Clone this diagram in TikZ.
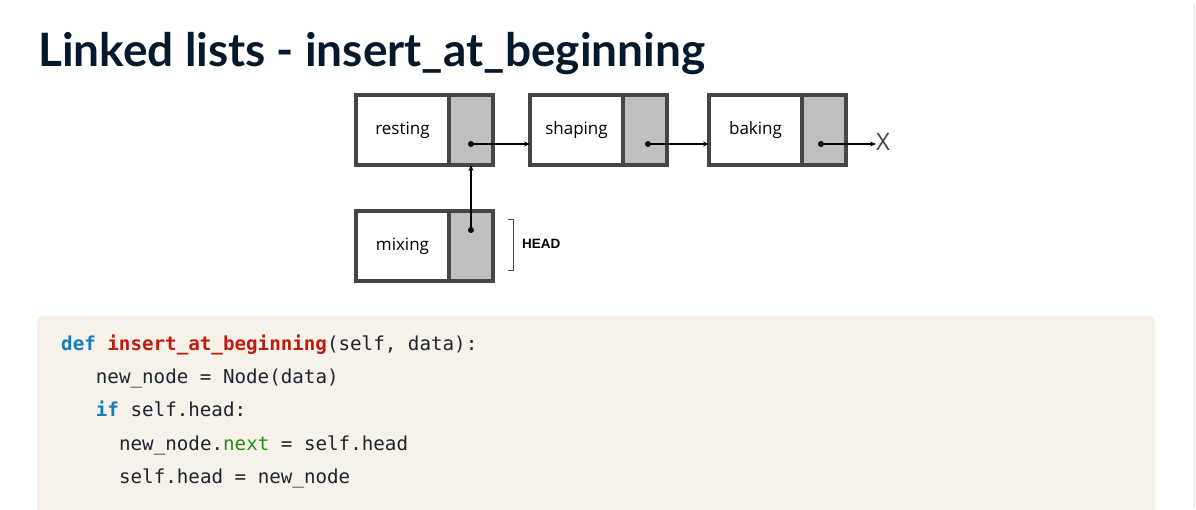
\documentclass[tikz,border=0pt]{standalone}
\usepackage{fontspec}
\usetikzlibrary{positioning,arrows.meta}
\setmainfont{Open Sans}
\newfontfamily\titlefont{Lato}
\newfontfamily\codefont{DejaVu Sans Mono}
\newfontfamily\headfont{Liberation Sans}
\definecolor{titleblue}{RGB}{5,25,45}
\definecolor{boxgray}{RGB}{69,69,69}
\definecolor{ptrgray}{RGB}{191,191,191}
\definecolor{codebg}{RGB}{246,242,234}
\definecolor{codetext}{RGB}{30,35,45}
\definecolor{kwblue}{RGB}{22,125,190}
\definecolor{fnred}{RGB}{190,28,15}
\definecolor{attrgreen}{RGB}{40,140,20}
\definecolor{edgegray}{RGB}{236,236,244}

\begin{document}
\begin{tikzpicture}[x = 1pt, y = 1pt,
    data/.style = {draw = boxgray, fill = white, line width = 4pt, minimum width = 93pt,
      minimum height = 70pt, inner sep = 0pt, outer sep = 0pt, font = \fontsize{17}{20}\selectfont},
    ptr/.style = {draw = boxgray, fill = ptrgray, line width = 4pt, minimum width = 44pt,
      minimum height = 70pt, inner sep = 0pt, outer sep = 0pt},
    code/.style = {anchor = base west, inner sep = 0pt, text = codetext,
      font = \codefont\fontsize{19.2}{22}\selectfont},
    >={Stealth[length = 6pt, width = 5pt]}]
      \path [use as bounding box, fill = white] (0,0) rectangle (1196,-509);
      \clip (0,0) rectangle (1196,-509);
      \draw [line width = 1.5pt, edgegray] (1194,-4) -- (1194,-509);

      % title
      \node (title) [anchor = base west, inner sep = 0pt, text = titleblue,
        font = \titlefont\bfseries\fontsize{46}{50}\selectfont] at (38,-66)
        {Linked lists - insert\_at\_beginning};

      % place nodes
      \node (rest) [data] at (402.5,-130) {resting};
      \node (prest) [ptr, right = 0pt of rest] {};
      \node (shape) [data, right = 37pt of prest] {shaping};
      \node (pshape) [ptr, right = 0pt of shape] {};
      \node (bake) [data, right = 42pt of pshape] {baking};
      \node (pbake) [ptr, right = 0pt of bake] {};
      \node (mix) [data, below = 46pt of rest] {mixing};
      \node (pmix) [ptr, right = 0pt of mix] {};

      \coordinate (drest) at ([yshift = -14pt]prest.center);
      \coordinate (dshape) at ([xshift = 3pt, yshift = -14pt]pshape.center);
      \coordinate (dbake) at ([xshift = -3pt, yshift = -14pt]pbake.center);
      \coordinate (dmix) at ([yshift = 16pt]pmix.center);

      \node (nil) [right = 55pt of dbake, inner sep = 0pt, yshift = 2pt, text = boxgray,
        font = \fontsize{24}{28}\selectfont] {X};
      \node (head) [anchor = west, inner sep = 0pt, font = \headfont\bfseries\fontsize{13.5}{16}\selectfont]
        at ([xshift = 29pt, yshift = 2pt]pmix.east) {HEAD};

      % draw edges
      \fill (drest) circle (3pt);
      \fill (dshape) circle (3pt);
      \fill (dbake) circle (3pt);
      \fill (dmix) circle (3pt);

      \draw [->, line width = 1.3pt] (drest) -- (drest -| shape.west);
      \draw [->, line width = 1.3pt] (dshape) -- (dshape -| bake.west);
      \draw [->, line width = 1.3pt] (dbake) -- (dbake -| nil.west);
      \draw [->, line width = 1.3pt] (dmix) -- (dmix |- prest.south);

      \draw [line width = 1pt, boxgray] ([xshift = 15pt, yshift = 27pt]pmix.east) -- ++(5,0)
        -- ++(0,-51) -- ++(-5,0);

      % code
      \fill [codebg, rounded corners = 7pt] (37,-316) rectangle (1155,-540);
      \node (l1) [code] at (61,-350) {{\color{kwblue}\bfseries def} {\color{fnred}\bfseries insert\_at\_beginning}(self, data):};
      \node (l2) [code] at (95.7,-383.5) {new\_node = Node(data)};
      \node (l3) [code] at (95.7,-416.8) {{\color{kwblue}\bfseries if} self.head:};
      \node (l4) [code] at (118.9,-450) {new\_node.{\color{attrgreen}next} = self.head};
      \node (l5) [code] at (118.9,-483.4) {self.head = new\_node};
    \end{tikzpicture}
\end{document}
